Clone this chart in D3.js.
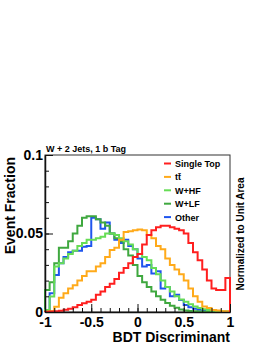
<!DOCTYPE html>
<meta charset="utf-8">
<style type="text/css">
  body { margin: 0; background: white; }
  svg { font-family: "Liberation Sans", Arial, Helvetica, sans-serif; }
  .axis path, .axis line { stroke: #111; }
  .axis text { font-size: 14px; font-weight: bold; fill: #000; }
  .hist { fill: none; stroke-width: 2; }
  .legend text { font-size: 9px; font-weight: bold; }
</style>
<body></body>
<script src="https://d3js.org/d3.v7.min.js"></script>
<script>

// 40 bins of width 0.05 on [-1, 1], normalized to unit area
var singleTop = [0.0002,0.0003,0.0005,0.0008,0.0015,0.002,0.003,0.0045,0.0055,0.0066,
                 0.0078,0.011,0.013,0.016,0.018,0.021,0.025,0.028,0.031,0.035,
                 0.037,0.043,0.049,0.052,0.054,0.055,0.055,0.054,0.053,0.052,
                 0.050,0.044,0.038,0.033,0.027,0.020,0.015,0.014,0.014,0.0216];
var ttbar = [0.0002,0.0005,0.0034,0.009,0.012,0.015,0.017,0.020,0.023,0.026,
             0.026,0.029,0.031,0.035,0.0395,0.041,0.046,0.051,0.0515,0.052,
             0.0525,0.052,0.049,0.047,0.042,0.040,0.034,0.030,0.027,0.024,
             0.020,0.015,0.010,0.0065,0.0035,0.0025,0.0013,0.001,0.0005,0.0004];
var wHF = [0.0013,0.0098,0.029,0.031,0.034,0.037,0.039,0.042,0.044,0.046,
           0.046,0.047,0.048,0.050,0.050,0.049,0.047,0.045,0.043,0.040,
           0.037,0.035,0.033,0.028,0.024,0.020,0.016,0.013,0.010,0.008,
           0.0065,0.005,0.0035,0.0025,0.0018,0.0012,0.0008,0.0005,0.0003,0.0002];
var wLF = [0.014,0.019,0.031,0.041,0.041,0.045,0.050,0.055,0.060,0.061,
           0.061,0.059,0.057,0.055,0.050,0.047,0.045,0.040,0.036,0.030,
           0.023,0.019,0.016,0.013,0.010,0.0078,0.0058,0.004,0.0027,0.0016,
           0.001,0.0006,0.0004,0.0003,0.0002,0.0001,0.0001,0.0001,0.0001,0.0001];
var other = [0.001,0.012,0.0236,0.031,0.035,0.038,0.039,0.039,0.0416,0.042,
             0.060,0.059,0.053,0.057,0.050,0.046,0.044,0.046,0.042,0.040,
             0.034,0.029,0.030,0.0245,0.026,0.015,0.016,0.010,0.011,0.0076,
             0.0045,0.003,0.002,0.0015,0.001,0.0006,0.0004,0.0003,0.0002,0.0001];

var seriesNames = ["Single Top", "tt", "W+HF", "W+LF", "Other"];
var seriesValues = [singleTop, ttbar, wHF, wLF, other];
var seriesColors = ["#ff1f1f", "#ffaa1a", "#66dd55", "#3fa83f", "#1f55ee"];

var xTicks = [-1, -0.5, 0, 0.5, 1];
var xTickLabels = ["-1", "-0.5", "0", "0.5", "1"];
var yTicks = [0, 0.05, 0.1];
var yTickLabels = ["0", "0.05", "0.1"];

var W = 270, H = 349;
var pLeft = 45, pRight = 230, pTop = 155, pBottom = 312;

var x = d3.scaleLinear().domain([-1, 1]).range([pLeft, pRight]);
var y = d3.scaleLinear().domain([0, 0.1]).range([pBottom, pTop]);

var svg = d3.select("body").append("svg")
    .attr("width", W)
    .attr("height", H);

// frame
svg.append("rect")
    .attr("x", pLeft).attr("y", pTop)
    .attr("width", pRight - pLeft).attr("height", pBottom - pTop)
    .attr("fill", "white")
    .attr("stroke", "#333")
    .attr("stroke-width", 1);

var edges = d3.range(41).map(function(i) { return -1 + i * 0.05; });

var line = d3.line()
    .x(function(d) { return x(d[0]); })
    .y(function(d) { return y(d[1]); });

function stairs(vals) {
  var pts = [[-1, 0]];
  vals.forEach(function(v, i) {
    pts.push([edges[i], v]);
    pts.push([edges[i + 1], v]);
  });
  pts.push([1, 0]);
  return pts;
}

// draw back to front
[4, 3, 2, 1, 0].forEach(function(k) {
  svg.append("path")
      .attr("class", "hist")
      .attr("stroke", seriesColors[k])
      .attr("d", line(stairs(seriesValues[k])));
});

// y axis: minor every 0.01, major with labels
svg.append("g")
    .attr("class", "axis")
    .attr("transform", "translate(" + pLeft + ",0)")
    .call(d3.axisLeft(y).tickValues(d3.range(0, 0.1001, 0.01)).tickSize(-4).tickSizeOuter(0).tickFormat(""));
svg.append("g")
    .attr("class", "axis")
    .attr("transform", "translate(" + pLeft + ",0)")
    .call(d3.axisLeft(y).tickValues(yTicks).tickSize(-8).tickSizeOuter(0).tickPadding(2)
      .tickFormat(function(d, i) { return yTickLabels[i]; }))
    .call(function(g) { g.select(".domain").attr("stroke-width", 1.5); });

// x axis
svg.append("g")
    .attr("class", "axis")
    .attr("transform", "translate(0," + pBottom + ")")
    .call(d3.axisBottom(x).tickValues(d3.range(-1, 1.001, 0.1)).tickSize(-4).tickSizeOuter(0).tickFormat(""));
svg.append("g")
    .attr("class", "axis")
    .attr("transform", "translate(0," + pBottom + ")")
    .call(d3.axisBottom(x).tickValues(xTicks).tickSize(-8).tickSizeOuter(0).tickPadding(5)
      .tickFormat(function(d, i) { return xTickLabels[i]; }))
    .call(function(g) { g.select(".domain").attr("stroke-width", 1.5); });

// titles
svg.append("text")
    .attr("x", pRight).attr("y", 342)
    .attr("text-anchor", "end")
    .style("font-size", "14px").style("font-weight", "bold")
    .text("BDT Discriminant");

svg.append("text")
    .attr("transform", "translate(15," + (pTop + 2) + ") rotate(-90)")
    .attr("text-anchor", "end")
    .style("font-size", "14px").style("font-weight", "bold")
    .text("Event Fraction");

svg.append("text")
    .attr("transform", "translate(244,234) rotate(-90)")
    .attr("text-anchor", "middle")
    .style("font-size", "10px").style("font-weight", "bold")
    .text("Normalized to Unit Area");

svg.append("text")
    .attr("x", pLeft + 1).attr("y", 152)
    .style("font-size", "9px").style("font-weight", "bold")
    .text("W + 2 Jets, 1 b Tag");

// legend
var legend = svg.append("g").attr("class", "legend");
seriesNames.forEach(function(name, i) {
  var ly = 163.5 + i * 13.4;
  legend.append("line")
      .attr("x1", 164).attr("x2", 171)
      .attr("y1", ly).attr("y2", ly)
      .attr("stroke", seriesColors[i]).attr("stroke-width", 2);
  var t = legend.append("text")
      .attr("x", 175).attr("y", ly + 3.5);
  if (name == "tt") {
    t.append("tspan").text("t");
    t.append("tspan").text("t\u0304");
  } else {
    t.text(name);
  }
});

</script>
